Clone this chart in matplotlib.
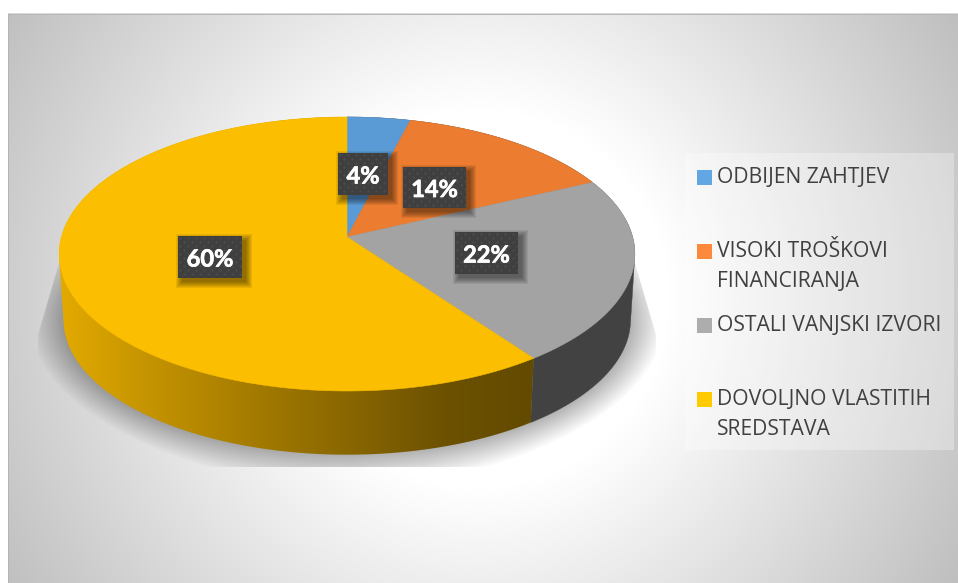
import numpy as np
import matplotlib
matplotlib.use("Agg")
import matplotlib.pyplot as plt
import matplotlib.patheffects as pe
from matplotlib.patches import Polygon, Rectangle

categories = ["ODBIJEN ZAHTJEV", "VISOKI TROŠKOVI\nFINANCIRANJA",
              "OSTALI VANJSKI IZVORI", "DOVOLJNO VLASTITIH\nSREDSTAVA"]
values = [4, 14, 22, 60]

top_colors = ["#5a9bd5", "#eb7c30", "#a3a3a3", "#fbbe00"]
key_colors = ["#62a6e4", "#fd8a3c", "#adadad", "#ffcb00"]

# everything is laid out in picture pixels
W, H = 958, 583
cx, apex_top, apex_side = 347, 237, 303
side_scale = 0.985
persp, rx, ry = 0.124, 285.6, 134.9

label_boxes = [(338, 153, 388, 195), (403, 167, 466, 208), (455, 232, 518, 274), (178, 236, 242, 278)]
key_baselines = [183, 257, 331, 405]


def project(theta, apex_y, scale=1.0):
    w = 1 + persp * np.cos(theta)
    return cx + scale * rx * np.sin(theta) / w, apex_y - scale * ry * np.cos(theta) / w


def hull(points):
    # outline of the swept wall, the two arcs alone leave a notch at the sides
    points = sorted(set(points))

    def half(pts):
        out = []
        for p in pts:
            while len(out) > 1 and ((out[-1][0] - out[-2][0]) * (p[1] - out[-2][1])
                                    - (out[-1][1] - out[-2][1]) * (p[0] - out[-2][0])) <= 0:
                out.pop()
            out.append(p)
        return out[:-1]

    return half(points) + half(points[::-1])


fig = plt.figure(figsize=(W / 100, H / 100), dpi=100)
ax = fig.add_axes([0, 0, 1, 1])
ax.set_axis_off()

# background: grey radial fill, white in the middle
yy, xx = np.mgrid[0:H, 0:W] + 0.5
dist = np.hypot(xx - 479, yy - 299)
grey = np.clip(255 - (dist - 190) * 63 / 360, 0, 255) / 255
bg = np.dstack([grey, grey, grey])
bg[:15, :] = 1
bg[:, :8] = 1
ax.imshow(bg, extent=(0, W, H, 0), aspect="auto", zorder=0, interpolation="nearest")
ax.add_patch(Rectangle((8, 13), W - 8, 1, fc="#dadada", ec="none", zorder=1))
ax.add_patch(Rectangle((8, 14), W - 8, 1, fc="#b8b8b8", ec="none", zorder=1))
ax.add_patch(Rectangle((8, 14), 1.5, H - 14, fc="#b4b4b4", ec="none", zorder=1))

# soft floor shadow, clipped to the reflection shape
sx, sy = (xx - cx) / 284, (yy - 320) / 135
r = np.hypot(sx, sy)
edge_dist = np.maximum(r - 1, 0) * np.hypot(xx - cx, yy - 320) / np.maximum(r, 1e-6)
shadow = np.zeros((H, W, 4))
shadow[..., 3] = 0.3 * np.clip(1 - edge_dist / 34, 0, 1)
shadow_im = ax.imshow(shadow, extent=(0, W, H, 0), aspect="auto", zorder=2)
clip_shape = Polygon([(38, 467), (38, 335), (59, 263), (635, 263), (656, 335), (656, 467)],
                     transform=ax.transData, fc="none", ec="none")
ax.add_patch(clip_shape)
shadow_im.set_clip_path(clip_shape)

# slices: side wall first, top face over it
fractions = np.array(values) / sum(values)
edges = np.concatenate([[0], np.cumsum(fractions)]) * 2 * np.pi

side_x = [60, 134, 268, 446, 531]
side_r = [0xe3, 0xc9, 0xa0, 0x6c, 0x62]
side_g = [0xaa, 0x97, 0x78, 0x51, 0x4a]

for i in range(len(values)):
    thetas = np.linspace(edges[i], edges[i + 1], 300)
    wall = hull([tuple(map(float, project(t, apex_top))) for t in thetas]
                + [tuple(map(float, project(t, apex_side, side_scale))) for t in thetas])
    if i == 3:
        # the big slice fades to dark brown from left to right
        columns = np.arange(W) + 0.5
        shade = np.zeros((1, W, 3))
        shade[0, :, 0] = np.interp(columns, side_x, side_r) / 255
        shade[0, :, 1] = np.interp(columns, side_x, side_g) / 255
        wall_patch = Polygon(wall, fc="none", ec="none", transform=ax.transData)
        ax.add_patch(wall_patch)
        wall_im = ax.imshow(shade, extent=(0, W, H, 0), aspect="auto", zorder=3)
        wall_im.set_clip_path(wall_patch)
    else:
        ax.add_patch(Polygon(wall, fc="#424242", ec="#424242", lw=0.3, zorder=3))

for i in range(len(values)):
    thetas = np.linspace(edges[i], edges[i + 1], 200)
    arc = [project(t, apex_top) for t in thetas]
    ax.add_patch(Polygon([(cx, apex_top)] + arc, fc=top_colors[i], ec=top_colors[i], lw=0.4, zorder=4))

# data labels: dark dotted box with a blurred drop shadow
for value, (x0, y0, x1, y1) in zip(values, label_boxes):
    for grow in range(6, -1, -1):
        ax.add_patch(Rectangle((x0 + 4 - grow, y0 + 4 - grow), x1 - x0 + 2 * grow, y1 - y0 + 2 * grow,
                               fc="black", ec="none", alpha=0.07, zorder=5))
    ax.add_patch(Rectangle((x0, y0), x1 - x0, y1 - y0, fc="#3f3f3f", ec="none", zorder=6))
    dot_x, dot_y = [], []
    for row, y in enumerate(np.arange(y0 + 2, y1, 4)):
        for x in np.arange(x0 + 2 + (row % 2) * 4, x1, 8):
            dot_x.append(x)
            dot_y.append(y)
    ax.scatter(dot_x, dot_y, s=3, c="#4b4b4b", linewidths=0, zorder=7)
    txt = ax.text((x0 + x1) / 2, (y0 + y1) / 2 + 9.5, f"{value}%", color="white", family="Lato", weight="bold",
                  fontsize=17, ha="center", va="baseline", zorder=8)
    txt.set_path_effects([pe.withStroke(linewidth=0.5, foreground="white")])

# legend
ax.add_patch(Rectangle((685, 153), 269, 297, fc="white", ec="none", alpha=0.3, zorder=2))
for name, color, base in zip(categories, key_colors, key_baselines):
    ax.add_patch(Rectangle((697, base - 13), 15, 14.5, fc=color, ec="none", zorder=3))
    for n, line in enumerate(name.split("\n")):
        ax.text(717, base + n * 30, line, color="#404040", family="Open Sans", fontsize=15.25,
                ha="left", va="baseline", zorder=3)

ax.set_xlim(0, W)
ax.set_ylim(H, 0)
fig.savefig("out.png", dpi=100)
